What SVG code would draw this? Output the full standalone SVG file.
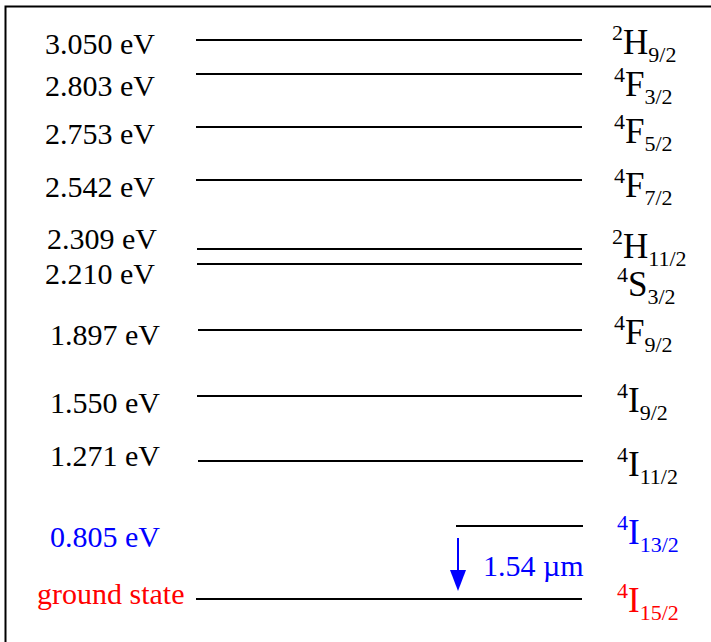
<svg xmlns="http://www.w3.org/2000/svg" width="711" height="642" viewBox="0 0 711 642">
<style>
.lbl{font-size:30px;}
.st{font-size:35px;}
.sup{font-size:22px;}
.sub{font-size:22px;}
.lvl{stroke:#000;stroke-width:2;fill:none;}
</style>
<rect x="5.5" y="6.5" width="720" height="660" fill="#fff" stroke="#000" stroke-width="2"/>
<g id="levels">
<line class="lvl" x1="196" y1="40" x2="582" y2="40"/>
<line class="lvl" x1="196" y1="74" x2="582" y2="74"/>
<line class="lvl" x1="196" y1="127" x2="582" y2="127"/>
<line class="lvl" x1="196" y1="180" x2="582" y2="180"/>
<line class="lvl" x1="197" y1="249" x2="582" y2="249"/>
<line class="lvl" x1="197" y1="264" x2="582" y2="264"/>
<line class="lvl" x1="198" y1="330" x2="582" y2="330"/>
<line class="lvl" x1="197" y1="396" x2="582" y2="396"/>
<line class="lvl" x1="198" y1="461" x2="583" y2="461"/>
<line class="lvl" x1="456" y1="526" x2="583" y2="526"/>
<line class="lvl" x1="196" y1="599" x2="582" y2="599"/>
<line x1="458" y1="538" x2="458" y2="572" stroke="#0000ff" stroke-width="2"/>
<path d="M450,570 L466,570 L458,591 Z" fill="#0000ff"/>
</g>
<g id="energies" font-family="'Liberation Serif','DejaVu Serif','Times New Roman',serif">
<text class="lbl" x="45" y="54">3.050 eV</text>
<text class="lbl" x="45" y="96">2.803 eV</text>
<text class="lbl" x="45" y="144">2.753 eV</text>
<text class="lbl" x="45" y="197">2.542 eV</text>
<text class="lbl" x="47" y="249">2.309 eV</text>
<text class="lbl" x="45" y="284">2.210 eV</text>
<text class="lbl" x="50" y="345">1.897 eV</text>
<text class="lbl" x="50" y="413">1.550 eV</text>
<text class="lbl" x="50" y="466">1.271 eV</text>
<text class="lbl" x="50" y="547" fill="#0000ff">0.805 eV</text>
<text class="lbl" x="37" y="604" fill="#ff0000">ground state</text>
<text class="lbl" x="483" y="576" fill="#0000ff">1.54 µm</text>
</g>
<g id="states" font-family="'Liberation Serif','DejaVu Serif','Times New Roman',serif">
<text x="612" y="54"><tspan class="sup" dy="-14">2</tspan><tspan class="st" dy="14">H</tspan><tspan class="sub" dy="8">9/2</tspan></text>
<text x="614" y="96"><tspan class="sup" dy="-14">4</tspan><tspan class="st" dy="14">F</tspan><tspan class="sub" dy="8">3/2</tspan></text>
<text x="614" y="143"><tspan class="sup" dy="-14">4</tspan><tspan class="st" dy="14">F</tspan><tspan class="sub" dy="8">5/2</tspan></text>
<text x="614" y="197"><tspan class="sup" dy="-14">4</tspan><tspan class="st" dy="14">F</tspan><tspan class="sub" dy="8">7/2</tspan></text>
<text x="612" y="258"><tspan class="sup" dy="-14">2</tspan><tspan class="st" dy="14">H</tspan><tspan class="sub" dy="8">11/2</tspan></text>
<text x="617" y="296"><tspan class="sup" dy="-14">4</tspan><tspan class="st" dy="14">S</tspan><tspan class="sub" dy="8">3/2</tspan></text>
<text x="614" y="344"><tspan class="sup" dy="-14">4</tspan><tspan class="st" dy="14">F</tspan><tspan class="sub" dy="8">9/2</tspan></text>
<text x="617" y="412"><tspan class="sup" dy="-14">4</tspan><tspan class="st" dy="14">I</tspan><tspan class="sub" dy="8">9/2</tspan></text>
<text x="617" y="476"><tspan class="sup" dy="-14">4</tspan><tspan class="st" dy="14">I</tspan><tspan class="sub" dy="8">11/2</tspan></text>
<text x="617" y="544" fill="#0000ff"><tspan class="sup" dy="-14">4</tspan><tspan class="st" dy="14">I</tspan><tspan class="sub" dy="8">13/2</tspan></text>
<text x="617" y="612" fill="#ff0000"><tspan class="sup" dy="-14">4</tspan><tspan class="st" dy="14">I</tspan><tspan class="sub" dy="8">15/2</tspan></text>
</g>
</svg>
